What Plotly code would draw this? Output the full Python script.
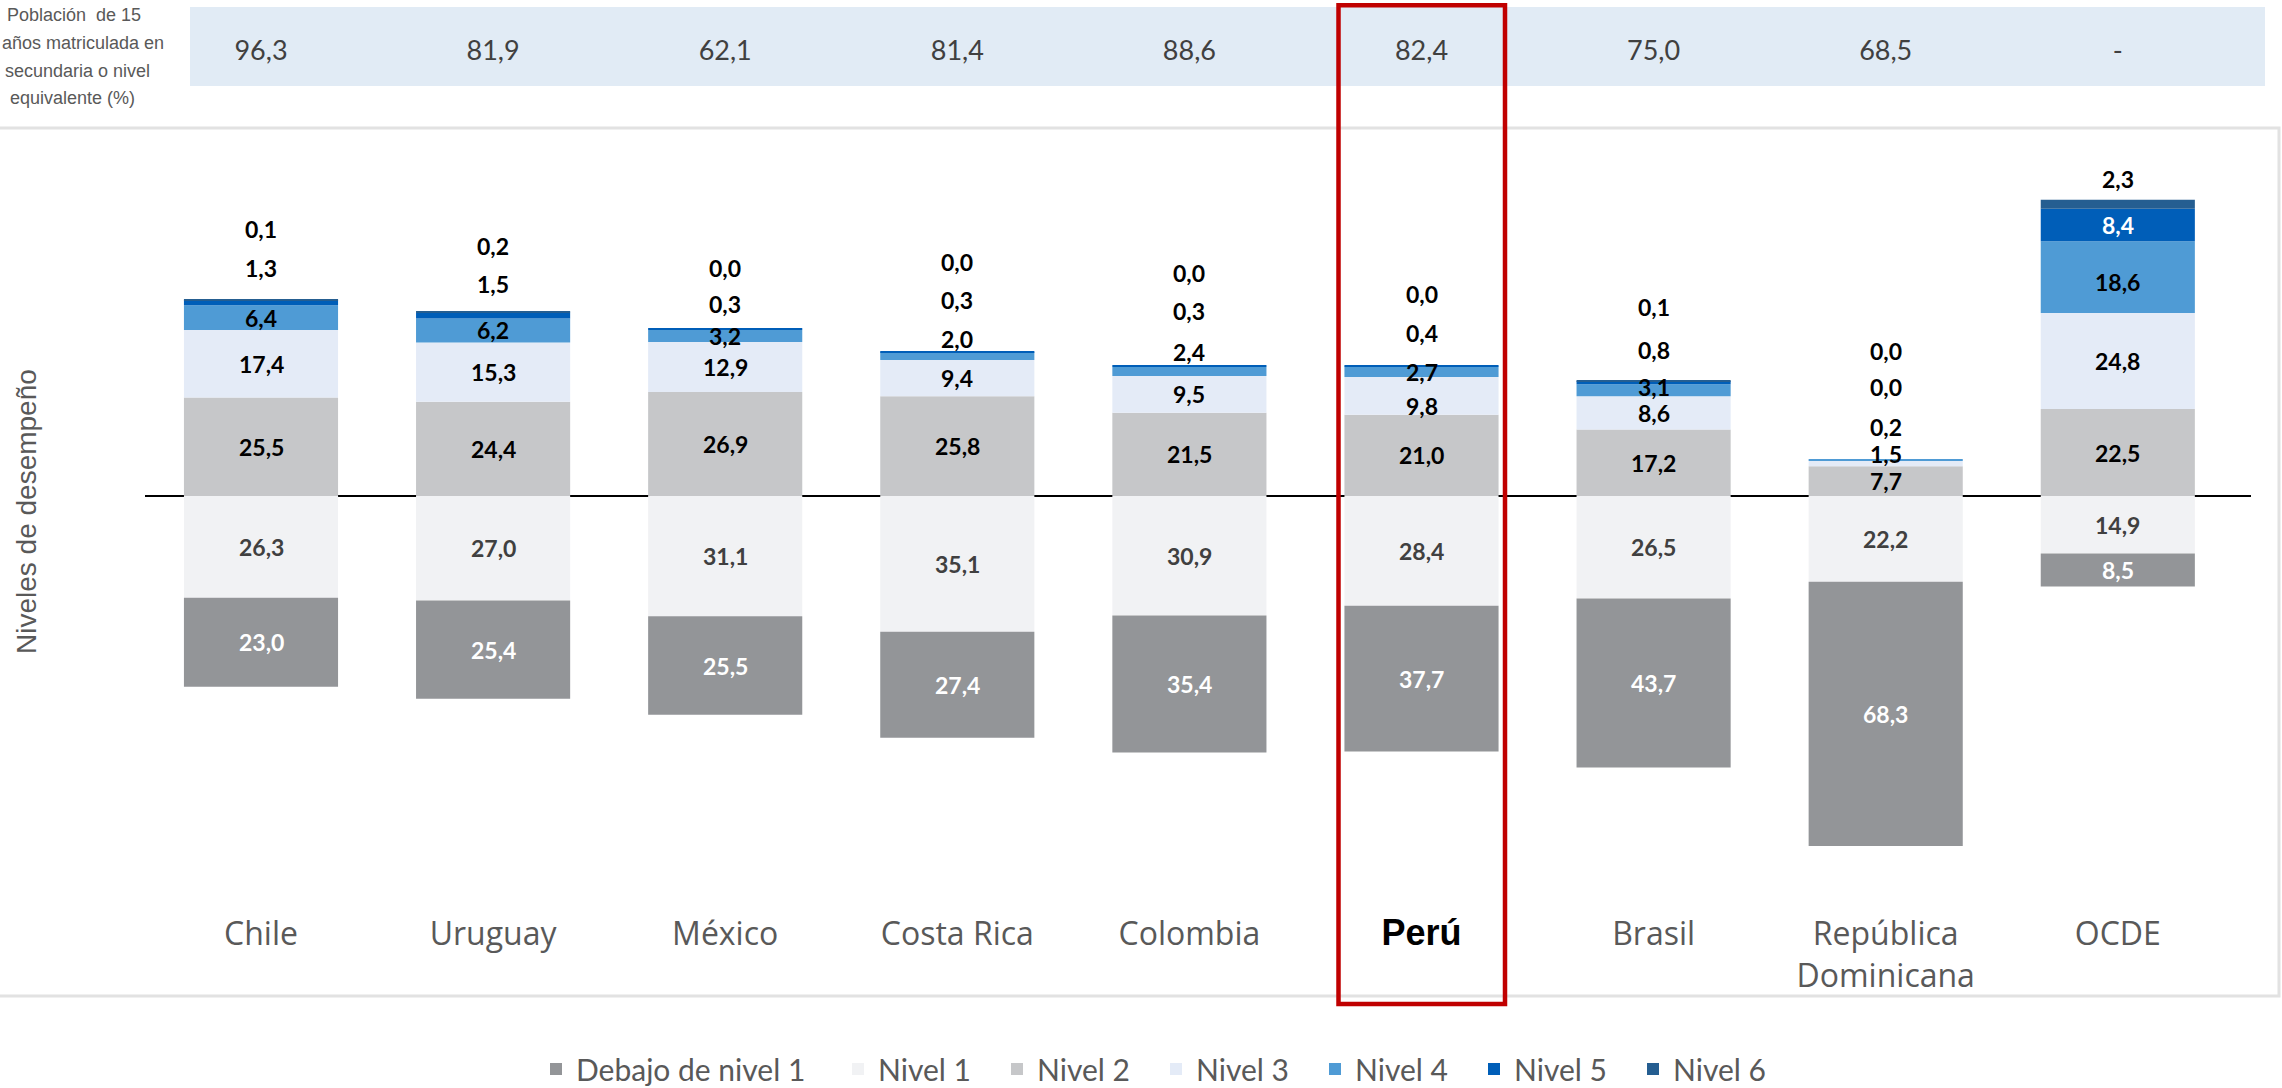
import plotly.graph_objects as go

# ---------------- data ----------------
countries = ["Chile", "Uruguay", "México", "Costa Rica", "Colombia", "Perú",
             "Brasil", "República Dominicana", "OCDE"]
tick_labels = ["Chile", "Uruguay", "México", "Costa Rica", "Colombia",
               "<span style='font-family:Liberation Sans, Arial;font-size:36px;font-weight:bold;fill:#000000'>Perú</span>",
               "Brasil", "República<br>Dominicana", "OCDE"]
enrolled = [96.3, 81.9, 62.1, 81.4, 88.6, 82.4, 75.0, 68.5, None]

below1 = [23.0, 25.4, 25.5, 27.4, 35.4, 37.7, 43.7, 68.3, 8.5]
nivel1 = [26.3, 27.0, 31.1, 35.1, 30.9, 28.4, 26.5, 22.2, 14.9]
nivel2 = [25.5, 24.4, 26.9, 25.8, 21.5, 21.0, 17.2, 7.7, 22.5]
nivel3 = [17.4, 15.3, 12.9, 9.4, 9.5, 9.8, 8.6, 1.5, 24.8]
nivel4 = [6.4, 6.2, 3.2, 2.0, 2.4, 2.7, 3.1, 0.2, 18.6]
nivel5 = [1.3, 1.5, 0.3, 0.3, 0.3, 0.4, 0.8, 0.0, 8.4]
nivel6 = [0.1, 0.2, 0.0, 0.0, 0.0, 0.0, 0.1, 0.0, 2.3]

# ---------------- styles ----------------
colors = {"Debajo de nivel 1": "#939598", "Nivel 1": "#F1F2F4", "Nivel 2": "#C6C7C9",
          "Nivel 3": "#E4EBF7", "Nivel 4": "#4F9BD5", "Nivel 5": "#005EB8",
          "Nivel 6": "#255E91"}
W, H = 2282, 1088
PLOT_TOP, PLOT_BOT = 128, 912
ZERO_PX, PX_PER_UNIT = 496, 3.867
X_LEFT, X_RIGHT = 145, 2251
CAT_PX, FIRST_C = 232.1, 261.0

def py(p):  # pixel y -> paper
    return 1 - p / H

y_top = (ZERO_PX - PLOT_TOP) / PX_PER_UNIT
y_bot = -(PLOT_BOT - ZERO_PX) / PX_PER_UNIT
x_lo = (X_LEFT - FIRST_C) / CAT_PX
x_hi = (X_RIGHT - FIRST_C) / CAT_PX

fig = go.Figure()

# negative side (nivel 1 closest to zero, then below 1)
neg = [("Nivel 1", nivel1, 2, "legend2"), ("Debajo de nivel 1", below1, 1, "legend")]
pos = [("Nivel 2", nivel2, 3), ("Nivel 3", nivel3, 4), ("Nivel 4", nivel4, 5),
       ("Nivel 5", nivel5, 6), ("Nivel 6", nivel6, 7)]
for name, vals, rank, leg in neg:
    fig.add_trace(go.Bar(x=countries, y=[-v for v in vals], name=name,
                         marker=dict(color=colors[name], line=dict(width=0)),
                         legendrank=rank, legend=leg, hoverinfo="skip"))
for name, vals, rank in pos:
    fig.add_trace(go.Bar(x=countries, y=vals, name=name,
                         marker=dict(color=colors[name], line=dict(width=0)),
                         legendrank=rank, legend="legend2", hoverinfo="skip"))

# top band values
fig.add_trace(go.Scatter(x=countries, y=[0.5] * len(countries), mode="text",
                         text=["-" if v is None else f"{v:.1f}".replace(".", ",") for v in enrolled],
                         textfont=dict(family="Lato", size=27, color="#404040"),
                         yaxis="y2", showlegend=False, hoverinfo="skip"))

def fmt(v):
    return f"{v:.1f}".replace(".", ",")

# label placement tweaks: (country idx, level) -> (mode, pixel shift)
label_place = {
    (0, 5): ("top", 32), (0, 6): ("top", 71),
    (1, 5): ("top", 28), (1, 6): ("top", 66),
    (2, 5): ("top", 25), (2, 6): ("top", 61),
    (3, 4): ("center", 17), (3, 5): ("top", 51), (3, 6): ("top", 89),
    (4, 4): ("center", 19), (4, 5): ("top", 55), (4, 6): ("top", 93),
    (5, 3): ("center", -10), (5, 5): ("top", 32), (5, 6): ("top", 71),
    (6, 4): ("center", 3), (6, 5): ("top", 31), (6, 6): ("top", 74),
    (7, 3): ("center", 9), (7, 4): ("top", 33), (7, 5): ("top", 73), (7, 6): ("top", 109),
    (8, 4): ("center", -5), (8, 6): ("center", 25),
}
label_colors = {0: "#FFFFFF", 1: "#404040"}

annotations = []
lab_font = dict(family="Lato", size=23, weight="bold")
for i, c in enumerate(countries):
    n1, b1 = nivel1[i], below1[i]
    for lvl, v, yc in [(1, n1, -n1 / 2), (0, b1, -n1 - b1 / 2)]:
        annotations.append(dict(x=c, y=yc, text=fmt(v), showarrow=False,
                                font=dict(lab_font, color=label_colors[lvl])))
    pvals = [nivel2[i], nivel3[i], nivel4[i], nivel5[i], nivel6[i]]
    total = sum(pvals)
    cum = 0
    for k, v in enumerate(pvals):
        lvl = k + 2
        center = cum + v / 2
        cum += v
        mode, shift = label_place.get((i, lvl), ("center", 0))
        yv = total if mode == "top" else center
        col = "#FFFFFF" if (i == 8 and lvl == 5) else "#000000"
        annotations.append(dict(x=c, y=yv, yshift=shift, text=fmt(v), showarrow=False,
                                font=dict(lab_font, color=col)))

# y-axis title
annotations.append(dict(xref="paper", yref="paper", x=26 / W, y=py(512),
                        text="Niveles de desempeño", textangle=-90, showarrow=False,
                        font=dict(family="Liberation Sans", size=28, color="#595959"),
                        xanchor="center", yanchor="middle"))
# top-left row label
row_lines = [("Población  de 15", 143, 15), ("años matriculada en", 166, 43),
             ("secundaria o nivel", 152, 71), ("equivalente (%)", 137, 98)]
for t, xe, yc in row_lines:
    annotations.append(dict(xref="paper", yref="paper", x=xe / W, y=py(yc), text=t,
                            showarrow=False, xanchor="right", yanchor="middle",
                            font=dict(family="Liberation Sans", size=18, color="#595959")))

shapes = [
    dict(type="rect", xref="paper", yref="paper", x0=190 / W, x1=2265 / W,
         y0=py(86), y1=py(7), fillcolor="#E1EBF5", line=dict(width=0), layer="below"),
    dict(type="rect", xref="paper", yref="paper", x0=-5 / W, x1=2279 / W,
         y0=py(996), y1=py(128), line=dict(color="#E2E2E2", width=3), layer="below"),
    dict(type="rect", xref="x", yref="paper", x0=(1338.5 - FIRST_C) / CAT_PX,
         x1=(1505 - FIRST_C) / CAT_PX, y0=py(1004), y1=py(5.3),
         line=dict(color="#C00000", width=4.5), layer="above"),
]

leg_font = dict(family="Lato", size=30, color="#595959")
fig.update_layout(
    width=W, height=H, margin=dict(l=0, r=0, t=0, b=0, autoexpand=False),
    paper_bgcolor="white", plot_bgcolor="rgba(0,0,0,0)",
    barmode="relative", bargap=0.336,
    xaxis=dict(domain=[X_LEFT / W, X_RIGHT / W], range=[x_lo, x_hi],
               tickmode="array", tickvals=countries, ticktext=tick_labels,
               tickfont=dict(family="Open Sans", size=32, color="#595959"),
               showgrid=False, showline=False, ticks="", zeroline=False,
               fixedrange=True),
    yaxis=dict(domain=[py(PLOT_BOT), py(PLOT_TOP)], range=[y_bot, y_top],
               showgrid=False, showticklabels=False, ticks="", showline=False,
               zeroline=True, zerolinecolor="#000000", zerolinewidth=2),
    yaxis2=dict(domain=[py(100), py(6)], range=[0, 1], showgrid=False,
                showticklabels=False, zeroline=False, showline=False),
    legend=dict(orientation="h", x=536 / W, xanchor="left", y=py(1069),
                yanchor="middle", font=leg_font, bgcolor="rgba(0,0,0,0)"),
    legend2=dict(orientation="h", x=838 / W, xanchor="left", y=py(1069),
                 yanchor="middle", font=leg_font, bgcolor="rgba(0,0,0,0)",
                 entrywidth=114, entrywidthmode="pixels", traceorder="normal"),
    annotations=annotations, shapes=shapes, showlegend=True,
)

fig.write_html("out.html", config={"displayModeBar": False},
               post_script="document.body.style.margin='0';")
